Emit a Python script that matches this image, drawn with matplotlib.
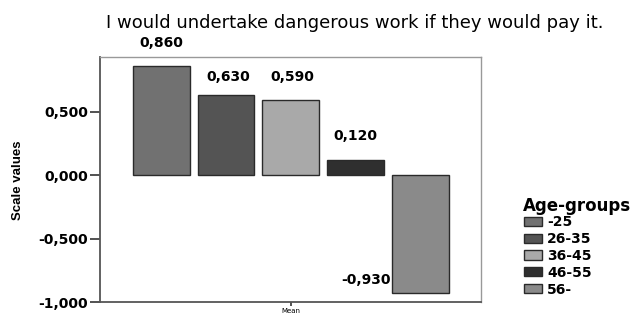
import numpy as np
import matplotlib
matplotlib.use("Agg")
import matplotlib.pyplot as plt

# data
groups = ["-25", "26-35", "36-45", "46-55", "56-"]
means = [0.860, 0.630, 0.590, 0.120, -0.930]
value_labels = ["0,860", "0,630", "0,590", "0,120", "-0,930"]
yticks = [-1.0, -0.5, 0.0, 0.5]
ytick_labels = ["-1,000", "-0,500", "0,000", "0,500"]
colors = ["#717171", "#545454", "#a9a9a9", "#2f2f2f", "#8a8a8a"]

plt.rcParams['font.family'] = ['DejaVu Sans']

fig = plt.figure(figsize=(6.41, 3.14), dpi=100)
ax = fig.add_axes([100/641, 1-302/314, 381/641, 245/314])

x = np.arange(len(groups))
bars = ax.bar(x, means, width=0.877, color=colors, edgecolor="#2a2a2a",
              linewidth=1.0, label=groups)
ax.set_xlim(-0.946, 4.938)
ax.set_ylim(-1.0, 0.93)

# value labels (offsets in pixels -> points)
offs = [(0, 23), (2, 18), (2, 23), (0, 24)]
for i in range(4):
    ax.annotate(value_labels[i], (x[i], means[i]),
                xytext=(offs[i][0]*0.72, offs[i][1]*0.72), textcoords="offset points",
                ha="center", va="center", fontsize=10, fontweight="bold")
ax.annotate(value_labels[4], (x[4] - 0.877/2, means[4]),
            xytext=(-1, 13*0.72), textcoords="offset points",
            ha="right", va="center", fontsize=10, fontweight="bold")

ax.set_yticks(yticks)
ax.set_yticklabels(ytick_labels, fontsize=10, fontweight="bold")
ax.set_xticks([2])
ax.set_xticklabels(["Mean"], fontsize=5)
ax.tick_params(axis="y", length=7, width=1.2, color="#333333", pad=1.5)
ax.tick_params(axis="x", length=3, width=1.2, color="#333333", pad=1)

for s in ["left", "bottom"]:
    ax.spines[s].set_color("#555555")
    ax.spines[s].set_linewidth(1.3)
for s in ["top", "right"]:
    ax.spines[s].set_color("#999999")
    ax.spines[s].set_linewidth(1.0)

fig.text(18/641, 1-180/314, "Scale values", rotation=90, ha="center", va="center",
         fontsize=9.5, fontweight="bold", family=["Liberation Sans Narrow", "Liberation Sans"])

fig.text(355/641, 1-23/314, "I would undertake dangerous work if they would pay it.",
         ha="center", va="center", fontsize=13)

# legend title drawn separately so entries sit closer to it
fig.text(523/641, 1-211/314, "Age-groups", ha="left", va="baseline",
         fontsize=12, fontweight="bold")
leg = ax.legend(bars, groups, loc="upper left",
                bbox_to_anchor=(523/641, 1-214/314), bbox_transform=fig.transFigure,
                frameon=False, handlelength=1.25, handleheight=0.65,
                handletextpad=0.4, labelspacing=0.2, borderpad=0.1, borderaxespad=0,
                prop={"weight": "bold", "size": 10})

fig.savefig("out.png", dpi=100)
